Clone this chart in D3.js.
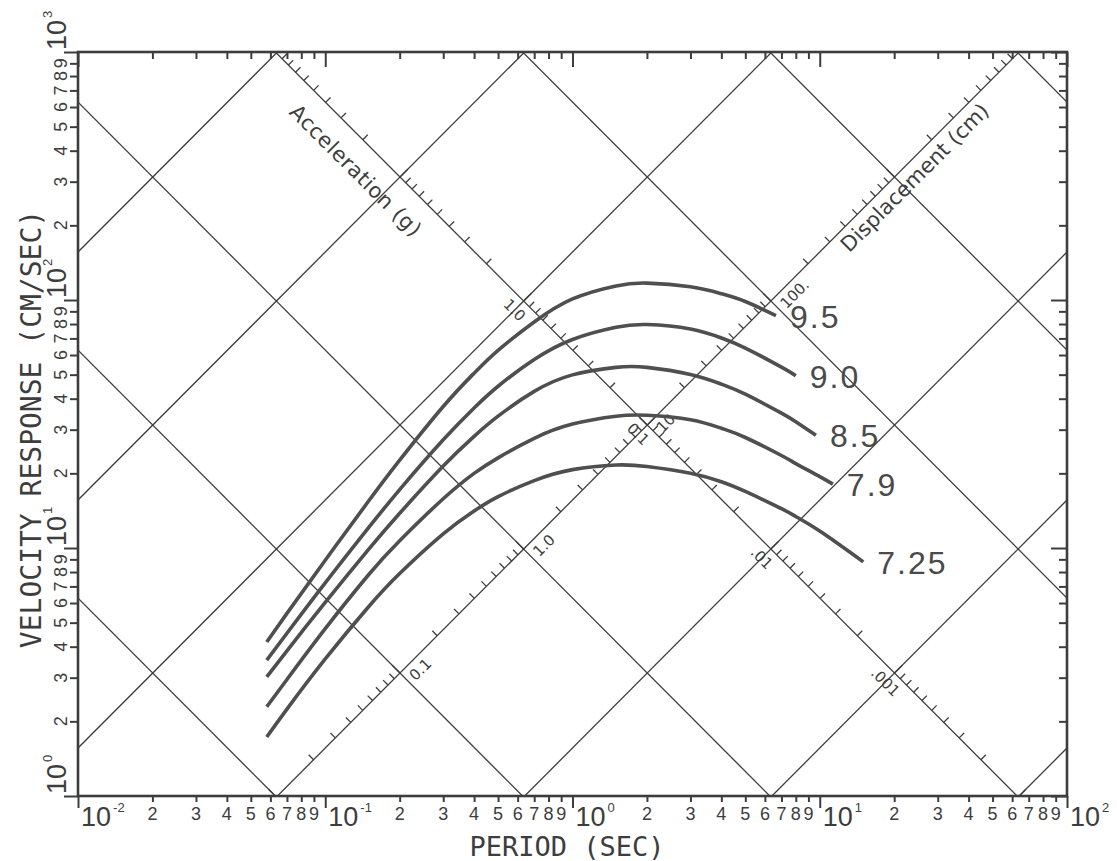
<!DOCTYPE html>
<html>
<head>
<meta charset="utf-8">
<script src="https://cdn.jsdelivr.net/npm/d3@7"></script>
<style>
  body { margin: 0; background: #fff; }
  svg { display: block; }
</style>
</head>
<body>
<div id="chart"></div>
<script>
// ---- data ----
var periodDomain = [0.01, 100];      // sec
var velocityDomain = [1, 1000];      // cm/sec
var xDecadeExp = [-2, -1, 0, 1, 2];
var yDecadeExp = [0, 1, 2, 3];
var minorDigits = [2, 3, 4, 5, 6, 7, 8, 9];

var accelGrid = [1e-4, 1e-3, 1e-2, 0.1, 1, 10, 100];      // g
var dispGrid = [0.01, 0.1, 1, 10, 100, 1000, 10000];      // cm
var accelAxisDisp = 10;    // acceleration scale runs along D = 10 cm
var dispAxisAccel = 0.1;   // displacement scale runs along A = 0.1 g
var accelLabelValues = [1, 0.1, 0.01, 0.001];
var accelLabelText = ["1.0", "0.1", ".01", ".001"];
var dispLabelValues = [0.1, 1, 10, 100];
var dispLabelText = ["0.1", "1.0", "10.", "100."];

var magnitudes = ["9.5", "9.0", "8.5", "7.9", "7.25"];
var periods95 = [0.058, 0.07, 0.1, 0.15, 0.2, 0.3, 0.4, 0.5, 0.7, 1.0, 1.5, 2.0, 3.0, 4.0, 5.0, 6.65];
var vel95 = [4.18, 5.45, 8.93, 15.5, 22.6, 37.2, 50.7, 62.7, 81.5, 101, 114, 117, 113, 106, 98.6, 86.5];
var periods90 = [0.058, 0.07, 0.1, 0.15, 0.2, 0.3, 0.4, 0.5, 0.7, 1.0, 1.5, 2.0, 3.0, 4.0, 5.0, 7.0, 8.0];
var vel90 = [3.53, 4.53, 7.23, 12.1, 17.2, 27.3, 36.7, 44.9, 57.5, 69.3, 77.6, 79.6, 76.4, 70.3, 64.0, 53.6, 49.5];
var periods85 = [0.058, 0.07, 0.1, 0.15, 0.2, 0.3, 0.4, 0.5, 0.7, 1.0, 1.5, 2.0, 3.0, 4.0, 5.0, 7.0, 8.0, 9.65];
var vel85 = [3.02, 3.85, 6.03, 9.89, 13.8, 21.4, 28.2, 34.0, 42.8, 49.9, 53.5, 53.5, 50.1, 45.8, 41.7, 35.0, 32.3, 28.5];
var periods79 = [0.058, 0.07, 0.1, 0.15, 0.2, 0.3, 0.4, 0.5, 0.7, 1.0, 1.5, 2.0, 3.0, 4.0, 5.0, 7.0, 8.0, 10, 11.3];
var vel79 = [2.29, 2.95, 4.73, 7.82, 10.7, 15.8, 20.0, 23.1, 27.7, 31.6, 34.0, 34.3, 32.9, 30.4, 27.9, 23.6, 21.9, 19.4, 18.1];
var periods725 = [0.058, 0.07, 0.1, 0.15, 0.2, 0.3, 0.4, 0.5, 0.7, 1.0, 1.5, 2.0, 3.0, 4.0, 5.0, 7.0, 8.0, 10, 15];
var vel725 = [1.73, 2.24, 3.57, 5.81, 7.89, 11.4, 14.1, 16.1, 18.7, 20.7, 21.6, 21.3, 20.0, 18.5, 16.9, 14.4, 13.4, 11.7, 8.79];

var series = [
  {label: magnitudes[0], T: periods95, V: vel95},
  {label: magnitudes[1], T: periods90, V: vel90},
  {label: magnitudes[2], T: periods85, V: vel85},
  {label: magnitudes[3], T: periods79, V: vel79},
  {label: magnitudes[4], T: periods725, V: vel725}
];

// ---- layout ----
var width = 1117, height = 861;
var plotL = 78, plotR = 1067, plotT = 52, plotB = 796;
var ink = "#3d3d3d";
var gAcc = 981;              // cm/s^2 per g
var TWO_PI = 2 * Math.PI;
var s = Math.SQRT1_2;

var svg = d3.select("#chart").append("svg")
    .attr("width", width)
    .attr("height", height);

var x = d3.scaleLog().domain(periodDomain).range([plotL, plotR]);
var y = d3.scaleLog().domain(velocityDomain).range([plotB, plotT]);

svg.append("defs").append("clipPath").attr("id", "plotclip")
  .append("rect")
    .attr("x", plotL).attr("y", plotT)
    .attr("width", plotR - plotL).attr("height", plotB - plotT);

// tick values
var xTicks = [], yTicks = [];
xDecadeExp.forEach(function(n) {
  [1].concat(minorDigits).forEach(function(k) {
    var v = k * Math.pow(10, n);
    if (v <= periodDomain[1] * 1.0001) xTicks.push(v);
  });
});
yDecadeExp.forEach(function(n) {
  [1].concat(minorDigits).forEach(function(k) {
    var v = k * Math.pow(10, n);
    if (v <= velocityDomain[1] * 1.0001) yTicks.push(v);
  });
});
function isMajor(v) { return Math.abs(Math.log10(v) - Math.round(Math.log10(v))) < 1e-6; }
function leadDigit(v) { return Math.round(v / Math.pow(10, Math.floor(Math.log10(v) + 1e-9))); }

// ---- diagonal grid ----
var grid = svg.append("g").attr("clip-path", "url(#plotclip)")
    .attr("stroke", ink).attr("stroke-width", 1.3).attr("fill", "none");

var tA = 1e-4, tB = 1e4;
accelGrid.forEach(function(a) {
  grid.append("line")
    .attr("x1", x(tA)).attr("y1", y(a * gAcc * tA / TWO_PI))
    .attr("x2", x(tB)).attr("y2", y(a * gAcc * tB / TWO_PI));
});
dispGrid.forEach(function(d) {
  grid.append("line")
    .attr("x1", x(tA)).attr("y1", y(TWO_PI * d / tA))
    .attr("x2", x(tB)).attr("y2", y(TWO_PI * d / tB));
});

// points on the two diagonal scales
function accelPoint(a) {
  var T = TWO_PI * Math.sqrt(accelAxisDisp / (a * gAcc));
  return [x(T), y(TWO_PI * accelAxisDisp / T)];
}
function dispPoint(d) {
  var T = TWO_PI * Math.sqrt(d / (dispAxisAccel * gAcc));
  return [x(T), y(dispAxisAccel * gAcc * T / TWO_PI)];
}

// diagonal scale ticks
var accTickVals = [], dispTickVals = [];
[-4, -3, -2, -1, 0, 1, 2].forEach(function(n) {
  [1].concat(minorDigits).forEach(function(k) { accTickVals.push(k * Math.pow(10, n)); });
});
[-2, -1, 0, 1, 2, 3, 4].forEach(function(n) {
  [1].concat(minorDigits).forEach(function(k) { dispTickVals.push(k * Math.pow(10, n)); });
});

accTickVals.forEach(function(a) {
  var p = accelPoint(a), len = isMajor(a) ? 11 : 7;
  grid.append("line")
    .attr("x1", p[0]).attr("y1", p[1])
    .attr("x2", p[0] + len * s).attr("y2", p[1] - len * s);
});
dispTickVals.forEach(function(d) {
  var p = dispPoint(d), len = isMajor(d) ? 11 : 7;
  grid.append("line")
    .attr("x1", p[0]).attr("y1", p[1])
    .attr("x2", p[0] - len * s).attr("y2", p[1] - len * s);
});

// diagonal scale labels
var diagFont = "'DejaVu Sans', sans-serif";
accelLabelValues.forEach(function(a, i) {
  var p = accelPoint(a);
  svg.append("text")
    .attr("transform", "translate(" + (p[0] - 13 * s) + "," + (p[1] + 13 * s) + ") rotate(45)")
    .attr("text-anchor", "middle").attr("dominant-baseline", "central")
    .attr("font-family", diagFont).attr("font-size", 15).attr("fill", ink)
    .text(accelLabelText[i]);
});
dispLabelValues.forEach(function(d, i) {
  var p = dispPoint(d);
  var px = p[0] + 12 * s + 5 * s, py = p[1] + 12 * s - 5 * s;
  svg.append("text")
    .attr("transform", "translate(" + px + "," + py + ") rotate(-45)")
    .attr("text-anchor", "start").attr("dominant-baseline", "central")
    .attr("font-family", diagFont).attr("font-size", 15).attr("fill", ink)
    .text(dispLabelText[i]);
});

// diagonal scale titles
var pa = accelPoint(16);
svg.append("text")
  .attr("transform", "translate(" + (pa[0] - 27 * s) + "," + (pa[1] + 27 * s) + ") rotate(45)")
  .attr("text-anchor", "middle").attr("dominant-baseline", "central")
  .attr("font-family", diagFont).attr("font-size", 21).attr("letter-spacing", 0.6).attr("fill", ink)
  .text("Acceleration (g)");
var pd = dispPoint(1200);
svg.append("text")
  .attr("transform", "translate(" + (pd[0] + 15 * s) + "," + (pd[1] + 15 * s) + ") rotate(-45)")
  .attr("text-anchor", "middle").attr("dominant-baseline", "central")
  .attr("font-family", diagFont).attr("font-size", 21).attr("fill", ink)
  .text("Displacement (cm)");

// ---- frame axes ----
var axBottom = svg.append("g").attr("transform", "translate(0," + plotB + ")")
  .call(d3.axisBottom(x).tickValues(xTicks).tickFormat("").tickSize(6));
axBottom.selectAll(".tick line").attr("y2", function(d) { return isMajor(d) ? 12 : 6; });

var axTop = svg.append("g").attr("transform", "translate(0," + plotT + ")")
  .call(d3.axisTop(x).tickValues(xTicks).tickFormat("").tickSize(-6));
axTop.selectAll(".tick line").attr("y2", function(d) { return isMajor(d) ? 15 : 7; });

var axLeft = svg.append("g").attr("transform", "translate(" + plotL + ",0)")
  .call(d3.axisLeft(y).tickValues(yTicks).tickFormat("").tickSize(7));
axLeft.selectAll(".tick line").attr("x2", function(d) { return isMajor(d) ? -14 : -8; });

var axRight = svg.append("g").attr("transform", "translate(" + plotR + ",0)")
  .call(d3.axisRight(y).tickValues(yTicks).tickFormat("").tickSize(-7));
axRight.selectAll(".tick line").attr("x2", function(d) { return isMajor(d) ? -16 : -8; });

[axBottom, axTop, axLeft, axRight].forEach(function(a) {
  a.select(".domain").remove();
  a.selectAll(".tick line").attr("stroke", ink).attr("stroke-width", 2);
});

svg.append("rect")
  .attr("x", plotL).attr("y", plotT)
  .attr("width", plotR - plotL).attr("height", plotB - plotT)
  .attr("fill", "none").attr("stroke", ink).attr("stroke-width", 2.6);

// ---- tick labels ----
var tickFont = "'Liberation Sans', Arial, sans-serif";
var xLab = svg.append("g").attr("font-family", tickFont).attr("fill", ink);
xTicks.forEach(function(v) {
  if (isMajor(v)) {
    var t = xLab.append("text").attr("x", x(v) + 3).attr("y", 826).attr("font-size", 27).text("10");
    t.append("tspan").attr("dx", 2).attr("dy", -14).attr("font-size", 13)
      .text(String(Math.round(Math.log10(v))));
  } else {
    xLab.append("text").attr("x", x(v)).attr("y", 820).attr("text-anchor", "middle")
      .attr("font-size", 18).text(leadDigit(v));
  }
});

var yLab = svg.append("g").attr("font-family", tickFont).attr("fill", ink);
yTicks.forEach(function(v) {
  if (isMajor(v)) {
    var t = yLab.append("text")
      .attr("transform", "translate(66," + (y(v) - 2) + ") rotate(-90)")
      .attr("font-size", 27).text("10");
    t.append("tspan").attr("dx", 2).attr("dy", -14).attr("font-size", 13)
      .text(String(Math.round(Math.log10(v))));
  } else {
    yLab.append("text")
      .attr("transform", "translate(67," + y(v) + ") rotate(-90)")
      .attr("text-anchor", "middle").attr("font-size", 18)
      .text(leadDigit(v));
  }
});

// ---- axis titles ----
var titleFont = "'DejaVu Sans Mono', monospace";
svg.append("text")
  .attr("x", 567).attr("y", 856)
  .attr("text-anchor", "middle")
  .attr("font-family", titleFont).attr("font-size", 27).attr("fill", ink)
  .text("PERIOD (SEC)");
svg.append("text")
  .attr("transform", "translate(41,429) rotate(-90)")
  .attr("text-anchor", "middle")
  .attr("font-family", titleFont).attr("font-size", 28).attr("fill", ink)
  .text("VELOCITY RESPONSE (CM/SEC)");

// ---- response curves ----
var line = d3.line()
  .x(function(d) { return x(d[0]); })
  .y(function(d) { return y(d[1]); })
  .curve(d3.curveNatural);

var curves = svg.append("g");
series.forEach(function(sr) {
  var pts = sr.T.map(function(t, i) { return [t, sr.V[i]]; });
  curves.append("path")
    .attr("d", line(pts))
    .attr("fill", "none")
    .attr("stroke", "#4f4f4f")
    .attr("stroke-width", 3.6)
    .attr("stroke-linecap", "butt");
  var last = pts[pts.length - 1];
  curves.append("text")
    .attr("x", x(last[0]) + 14)
    .attr("y", y(last[1]) + 12)
    .attr("font-family", "'Liberation Sans', Arial, sans-serif")
    .attr("font-size", 32)
    .attr("letter-spacing", 2)
    .attr("fill", "#4a4a4a")
    .text(sr.label);
});
</script>
</body>
</html>
